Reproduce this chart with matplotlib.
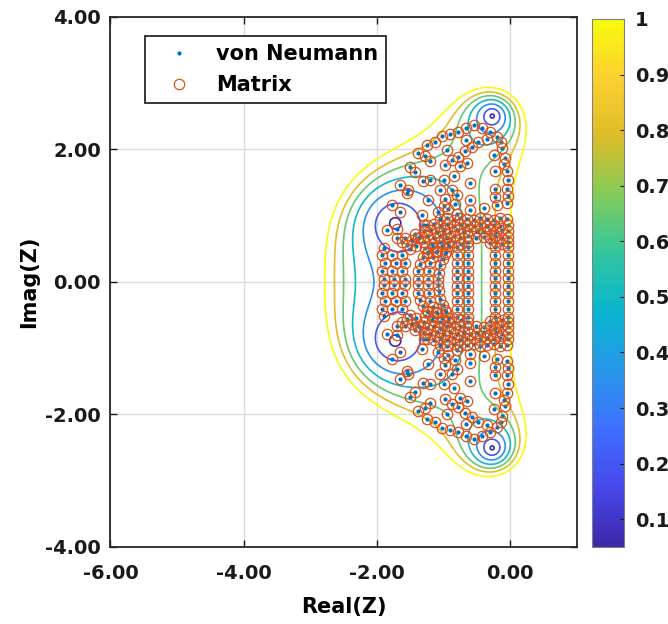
import numpy as np
import matplotlib
matplotlib.use("Agg")
import matplotlib.pyplot as plt
from matplotlib.colors import LinearSegmentedColormap, Normalize
from matplotlib.cm import ScalarMappable

plt.rcParams['font.family'] = ['DejaVu Sans']
plt.rcParams['font.weight'] = 'bold'

# stability polynomial R(z) = 1 + z + z^2/2 + z^3/6 + z^4/24  (classic RK4)
rk4_coeffs = [1.0, 1.0, 1 / 2, 1 / 6, 1 / 24]
contour_levels = [0.05, 0.2, 0.35, 0.5, 0.65, 0.8, 1.0]
cbar_ticks = [0.1, 0.2, 0.3, 0.4, 0.5, 0.6, 0.7, 0.8, 0.9, 1.0]
cbar_labels = ['0.1', '0.2', '0.3', '0.4', '0.5', '0.6', '0.7', '0.8', '0.9', '1']
x_ticks = [-6, -4, -2, 0]
y_ticks = [-4, -2, 0, 2, 4]

# eigenvalues (dt*lambda), upper half only (Im >= 0);
# the lower half is the complex conjugate
outer_pts = [
    (-0.55, 2.37), (-0.43, 2.33), (-0.30, 2.26), (-0.20, 2.19), (-0.14, 2.12), (-0.12, 2.02),
    (-0.66, 2.32), (-0.78, 2.27), (-0.90, 2.24), (-1.03, 2.21),
    (-0.35, 2.16), (-0.48, 2.12), (-0.58, 2.04), (-0.66, 2.14), (-0.95, 1.99), (-1.13, 2.12), (-1.25, 2.07),
    (-0.68, 1.98), (-0.78, 1.89), (-0.88, 1.84), (-0.98, 1.76), (-1.20, 1.82), (-1.28, 1.90), (-1.38, 1.95),
    (-0.65, 1.79), (-0.75, 1.75), (-1.50, 1.74), (-1.43, 1.66),
    (-0.85, 1.60), (-1.00, 1.54), (-1.20, 1.54), (-1.31, 1.52), (-0.60, 1.49), (-1.65, 1.47), (-1.53, 1.39),
    (-0.88, 1.39), (-1.05, 1.39),
    (-0.25, 1.92), (-0.08, 1.87), (-0.10, 1.78), (-0.23, 1.67), (-0.05, 1.67), (-0.03, 1.54), (-0.05, 1.41),
    (-0.23, 1.41), (-1.55, 1.34), (-0.98, 1.25),
    (-0.80, 1.31), (-0.60, 1.23), (-0.23, 1.29), (-0.20, 1.16), (-0.03, 1.30), (-0.05, 1.19),
    (-1.00, 1.15), (-1.08, 1.05), (-1.23, 1.24), (-0.83, 1.18), (-0.93, 1.10), (-0.80, 1.03),
    (-1.78, 1.16), (-1.65, 1.06), (-1.33, 1.01), (-0.40, 1.12), (-0.60, 1.08),
]
left_pts = [
    (-1.85, 0.78), (-1.70, 0.80), (-1.30, 0.86), (-1.43, 0.72), (-1.58, 0.66),
    (-1.70, 0.66), (-1.62, 0.60), (-1.55, 0.56), (-1.48, 0.63), (-1.42, 0.54), (-1.50, 0.50), (-1.38, 0.66),
    (-1.90, 0.52),
    (-1.92, 0.41), (-1.77, 0.41), (-1.62, 0.41),
    (-1.88, 0.28), (-1.72, 0.29), (-1.58, 0.28),
    (-1.93, 0.16), (-1.77, 0.16), (-1.62, 0.16),
    (-1.90, 0.05), (-1.74, 0.05), (-1.58, 0.05),
    (-1.24, 0.46), (-1.31, 0.37), (-1.35, 0.27), (-1.38, 0.16), (-1.39, 0.05),
    (-1.10, 0.47), (-1.16, 0.38), (-1.20, 0.28), (-1.22, 0.16), (-1.23, 0.05),
    (-0.96, 0.45), (-1.01, 0.35), (-1.05, 0.25), (-1.07, 0.14), (-1.08, 0.05),
]
d_pts = [
    (-0.80, 0.06), (-0.80, 0.17), (-0.80, 0.29), (-0.80, 0.41), (-0.80, 0.53),
    (-0.64, 0.06), (-0.64, 0.17), (-0.64, 0.29), (-0.64, 0.41), (-0.64, 0.53),
    (-0.23, 0.06), (-0.23, 0.17), (-0.23, 0.29), (-0.23, 0.41), (-0.23, 0.53),
    (-0.04, 0.06), (-0.04, 0.17), (-0.04, 0.29), (-0.04, 0.41), (-0.04, 0.53),
    (-1.05, 0.95), (-0.95, 0.96), (-0.85, 0.94), (-0.75, 0.96), (-0.65, 0.95), (-0.55, 0.94),
    (-0.45, 0.96), (-0.35, 0.95), (-0.25, 0.94), (-0.15, 0.96), (-0.05, 0.95),
    (-1.25, 0.86), (-1.15, 0.88), (-1.05, 0.85), (-0.95, 0.87), (-0.85, 0.85), (-0.75, 0.88), (-0.65, 0.86),
    (-0.55, 0.84), (-0.45, 0.87), (-0.35, 0.85), (-0.25, 0.86), (-0.15, 0.84), (-0.04, 0.86),
    (-1.30, 0.77), (-1.20, 0.79), (-1.10, 0.76), (-1.00, 0.78), (-0.90, 0.75), (-0.80, 0.78), (-0.70, 0.76),
    (-0.60, 0.79), (-0.50, 0.77), (-0.40, 0.75), (-0.30, 0.78), (-0.22, 0.76), (-0.12, 0.78), (-0.04, 0.77),
    (-1.35, 0.68), (-1.25, 0.70), (-1.15, 0.67), (-1.05, 0.69), (-0.95, 0.66), (-0.85, 0.69), (-0.75, 0.67),
    (-0.64, 0.69), (-0.52, 0.67), (-0.40, 0.68), (-0.30, 0.66), (-0.23, 0.69), (-0.13, 0.67), (-0.04, 0.68),
    (-1.30, 0.60), (-1.18, 0.58), (-1.06, 0.61), (-0.94, 0.59), (-0.84, 0.61), (-0.74, 0.58), (-0.64, 0.60),
    (-0.30, 0.59), (-0.22, 0.61), (-0.13, 0.58), (-0.04, 0.60),
    (-1.28, 0.52), (-1.16, 0.53), (-1.03, 0.54), (-0.92, 0.55),
    (-1.25, 0.44), (-1.12, 0.45), (-0.98, 0.42),
]

upper = np.array(outer_pts + left_pts + d_pts)
eig = np.vstack([upper, upper * np.array([1, -1])])

# parula-like colormap
parula = LinearSegmentedColormap.from_list('parula', [
    (0.2422, 0.1504, 0.6603), (0.2803, 0.2782, 0.9221), (0.2440, 0.4358, 0.9988),
    (0.1540, 0.5902, 0.9218), (0.0297, 0.7082, 0.8163), (0.1938, 0.7758, 0.6251),
    (0.5044, 0.7993, 0.3480), (0.8634, 0.7406, 0.1596), (0.9892, 0.8136, 0.1885),
    (0.9763, 0.9831, 0.0538)])
norm = Normalize(vmin=0.05, vmax=1.0)

re = np.linspace(-3.2, 0.6, 700)
im = np.linspace(-3.4, 3.4, 900)
X, Y = np.meshgrid(re, im)
G = np.abs(np.polyval(rk4_coeffs[::-1], X + 1j * Y))

fig = plt.figure(figsize=(6.68, 6.24), dpi=100)
ax = fig.add_axes([0.1654, 0.1234, 0.6983, 0.8494])

ax.grid(True, color='#dcdcdc', linewidth=1.0, zorder=0)
ax.set_axisbelow(True)
ax.contour(X, Y, G, levels=contour_levels, cmap=parula, norm=norm, linewidths=1.2, zorder=2)

ax.plot(eig[:, 0], eig[:, 1], 'o', color='#0072BD', ms=3, mec='none', label='von Neumann', zorder=3)
ax.plot(eig[:, 0], eig[:, 1], 'o', mfc='none', mec='#D95319', ms=7.5, mew=0.9, label='Matrix', zorder=4)

ax.set_xlim(-6, 1)
ax.set_ylim(-4, 4)
ax.set_xticks(x_ticks)
ax.set_yticks(y_ticks)
ax.set_xticklabels(['%.2f' % v for v in x_ticks])
ax.set_yticklabels(['%.2f' % v for v in y_ticks])
ax.tick_params(axis='both', direction='in', length=5, width=1, top=True, right=True,
               labelsize=14, colors='#1a1a1a')
ax.tick_params(axis='x', pad=12)
ax.tick_params(axis='y', pad=7)
for s in ax.spines.values():
    s.set_linewidth(1.3)
    s.set_color('#262626')

ax.set_xlabel('Real(Z)', fontsize=15, fontweight='bold', labelpad=10)
ax.set_ylabel('Imag(Z)', fontsize=15, fontweight='bold', labelpad=4)

leg = ax.legend(loc='upper left', bbox_to_anchor=(0.074, 0.964), borderaxespad=0,
                fontsize=15, handlelength=2.5, handletextpad=0.5, labelspacing=0.5,
                fancybox=False, framealpha=1, edgecolor='#262626')
leg.get_frame().set_linewidth(1.3)

cax = fig.add_axes([592 / 668, 0.1234, 32 / 668, 0.8462])
cb = fig.colorbar(ScalarMappable(norm=norm, cmap=parula), cax=cax)
cb.set_ticks(cbar_ticks)
cb.set_ticklabels(cbar_labels)
cb.outline.set_linewidth(0.8)
cb.outline.set_edgecolor('#808080')
cax.tick_params(direction='in', length=3, labelsize=14, pad=8, colors='#1a1a1a')

fig.savefig('out.png', dpi=100)
